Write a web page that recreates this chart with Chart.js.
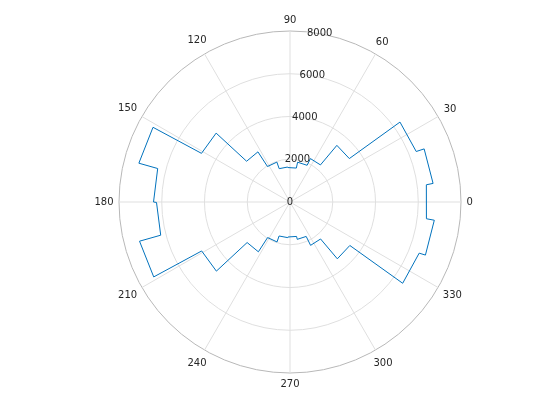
<!DOCTYPE html>
<html>
<head>
<meta charset="utf-8">
<script src="https://cdn.jsdelivr.net/npm/chart.js@4/dist/chart.umd.min.js"></script>
<style>
  html, body { margin: 0; padding: 0; background: #ffffff; }
  #wrap { width: 560px; height: 420px; }
</style>
</head>
<body>
<div id="wrap"><canvas id="c" width="560" height="420"></canvas></div>
<script>
// ---- data ----
// polar histogram, 25 bins of 14.4 degrees, first bin centred on 0 degrees
const binFirstEdge = -7.2;   // degrees
const binWidth = 14.4;       // degrees
const binCounts = [6430, 6750, 6360, 3440, 2245, 1895, 1615, 1640, 1965, 2785,
                   4725, 7300, 6385, 6245, 7275, 4725, 2760, 1965, 1670, 1640,
                   1780, 2245, 3460, 6500, 6805];
const radialTickValues = [0, 2000, 4000, 6000, 8000];
const radialTickLabels = ['0', '2000', '4000', '6000', '8000'];
const angleTickValues = [0, 30, 60, 90, 120, 150, 180, 210, 240, 270, 300, 330];
const angleTickLabels = ['0', '30', '60', '90', '120', '150', '180', '210', '240', '270', '300', '330'];

// ---- build the radar table: one label every 0.2 degree, clockwise from 90 ----
const STEP_TENTHS = 2;                   // 0.2 degree
const N = 3600 / STEP_TENTHS;            // 1800 labels
function idxOf(tenths) {                 // math angle (tenths of degree) -> label index
  return (((900 - tenths) % 3600) + 3600) % 3600 / STEP_TENTHS;
}
const labels = [];
for (let i = 0; i < N; i++) {
  let a = (900 - i * STEP_TENTHS) / 10;
  a = ((a % 360) + 360) % 360;
  labels.push(a.toFixed(1));
}
const series = new Array(N).fill(null);
const firstT = Math.round(binFirstEdge * 10), widthT = Math.round(binWidth * 10);
binCounts.forEach((v, k) => {
  const a = firstT + k * widthT, b = a + widthT;
  series[idxOf(a + STEP_TENTHS)] = v;    // start of the bin (just past the edge)
  series[idxOf(b)] = v;                  // end of the bin
});

const polarLabels = {
  id: 'polarLabels',
  afterDraw(chart) {
    const s = chart.scales.r, c = chart.ctx;
    c.save();
    c.font = '10px "DejaVu Sans"';
    c.fillStyle = '#262626';
    c.textAlign = 'center';
    c.textBaseline = 'middle';
    const ra = 80 * Math.PI / 180;
    radialTickValues.forEach((v, i) => {
      const d = s.getDistanceFromCenterForValue(v);
      c.fillText(radialTickLabels[i], s.xCenter + d * Math.cos(ra), s.yCenter - d * Math.sin(ra));
    });
    const R = s.getDistanceFromCenterForValue(s.max);
    const gap = 5.5, halfH = 5.5;
    angleTickValues.forEach((deg, i) => {
      const t = deg * Math.PI / 180, cs = Math.cos(t), sn = Math.sin(t);
      const hw = c.measureText(angleTickLabels[i]).width / 2;
      const d = R + gap + hw * Math.abs(cs) + halfH * Math.abs(sn);
      c.fillText(angleTickLabels[i], s.xCenter + d * cs, s.yCenter - d * sn);
    });
    c.restore();
  }
};

new Chart(document.getElementById('c'), {
  type: 'radar',
  data: {
    labels: labels,
    datasets: [{
      data: series,
      spanGaps: true,
      borderColor: '#0072BD',
      borderWidth: 1,
      backgroundColor: 'transparent',
      fill: false,
      pointRadius: 0,
      pointHoverRadius: 0,
      tension: 0
    }]
  },
  options: {
    responsive: false,
    animation: false,
    events: [],
    layout: { padding: { left: 119, right: 99, top: 31, bottom: 47 } },
    plugins: { legend: { display: false }, tooltip: { enabled: false } },
    scales: {
      r: {
        min: 0,
        max: 8000,
        startAngle: 0,
        ticks: { display: false, stepSize: 2000 },
        grid: {
          circular: true,
          lineWidth: 1,
          color: (ctx) => (ctx.tick && ctx.tick.value === 8000) ? '#b8b8b8' : '#dfdfdf'
        },
        angleLines: {
          display: true,
          color: '#dfdfdf',
          lineWidth: (ctx) => (ctx.index % 150 === 0 ? 1 : 0)
        },
        pointLabels: { display: false }
      }
    }
  },
  plugins: [polarLabels]
});
</script>
</body>
</html>
